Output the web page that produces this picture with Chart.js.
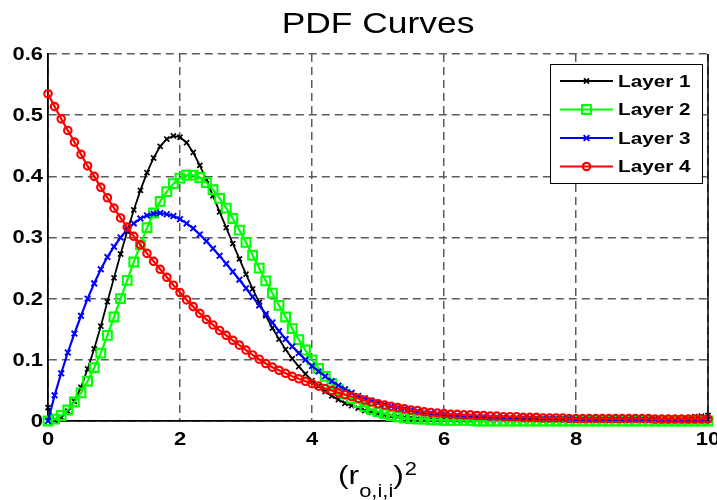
<!DOCTYPE html>
<html>
<head>
<meta charset="utf-8">
<title>PDF Curves</title>
<script src="https://cdn.jsdelivr.net/npm/chart.js@4.4.0/dist/chart.umd.min.js"></script>
<style>
  html, body { margin: 0; padding: 0; background: #fff; }
  canvas { display: block; }
</style>
</head>
<body>
<canvas id="pdfChart" width="717" height="500"></canvas>
<script>
// sample positions along (r_o,i,i)^2
const xValues = [
  0, 0.1, 0.2, 0.3, 0.4, 0.5, 0.6, 0.7, 0.8, 0.9,
  1, 1.1, 1.2, 1.3, 1.4, 1.5, 1.6, 1.7, 1.8, 1.9,
  2, 2.1, 2.2, 2.3, 2.4, 2.5, 2.6, 2.7, 2.8, 2.9,
  3, 3.1, 3.2, 3.3, 3.4, 3.5, 3.6, 3.7, 3.8, 3.9,
  4, 4.1, 4.2, 4.3, 4.4, 4.5, 4.6, 4.7, 4.8, 4.9,
  5, 5.1, 5.2, 5.3, 5.4, 5.5, 5.6, 5.7, 5.8, 5.9,
  6, 6.1, 6.2, 6.3, 6.4, 6.5, 6.6, 6.7, 6.8, 6.9,
  7, 7.1, 7.2, 7.3, 7.4, 7.5, 7.6, 7.7, 7.8, 7.9,
  8, 8.1, 8.2, 8.3, 8.4, 8.5, 8.6, 8.7, 8.8, 8.9,
  9, 9.1, 9.2, 9.3, 9.4, 9.5, 9.6, 9.7, 9.8, 9.9,
  10
];

const layer1 = [
  0.022, 0.001, 0.006, 0.016, 0.032, 0.055, 0.085, 0.118, 0.155, 0.195,
  0.234, 0.273, 0.310, 0.345, 0.377, 0.406, 0.430, 0.449, 0.461, 0.466,
  0.464, 0.455, 0.439, 0.418, 0.394, 0.368, 0.342, 0.316, 0.290, 0.265,
  0.240, 0.216, 0.194, 0.172, 0.152, 0.134, 0.117, 0.102, 0.089, 0.077,
  0.066, 0.057, 0.048, 0.041, 0.035, 0.029, 0.025, 0.021, 0.017, 0.014,
  0.012, 0.010, 0.008, 0.007, 0.006, 0.005, 0.004, 0.003, 0.003, 0.002,
  0.002, 0.002, 0.001, 0.001, 0.001, 0.001, 0.001, 0.001, 0.001, 0.001,
  0.001, 0.001, 0.001, 0.001, 0.001, 0.001, 0.001, 0.001, 0.001, 0.001,
  0.001, 0.001, 0.001, 0.001, 0.001, 0.001, 0.001, 0.001, 0.001, 0.001,
  0.001, 0.001, 0.001, 0.001, 0.001, 0.001, 0.002, 0.005, 0.007, 0.008,
  0.009
];

const layer2 = [
  0.000, 0.003, 0.009, 0.018, 0.031, 0.046, 0.065, 0.087, 0.111, 0.140,
  0.170, 0.200, 0.230, 0.260, 0.288, 0.316, 0.340, 0.359, 0.375, 0.388,
  0.397, 0.402, 0.402, 0.398, 0.390, 0.378, 0.364, 0.348, 0.331, 0.312,
  0.292, 0.271, 0.250, 0.229, 0.209, 0.189, 0.170, 0.151, 0.133, 0.116,
  0.100, 0.086, 0.073, 0.061, 0.051, 0.044, 0.037, 0.030, 0.024, 0.019,
  0.015, 0.012, 0.009, 0.007, 0.005, 0.004, 0.003, 0.003, 0.002, 0.002,
  0.001, 0.001, 0.001, 0.001, 0.001, 0.000, 0.000, 0.000, 0.000, 0.000,
  0.000, 0.000, 0.000, 0.000, 0.000, 0.000, 0.000, 0.000, 0.000, 0.000,
  0.000, 0.000, 0.000, 0.000, 0.000, 0.000, 0.000, 0.000, 0.000, 0.000,
  0.000, 0.000, 0.000, 0.000, 0.000, 0.000, 0.000, 0.000, 0.000, 0.000,
  0.000
];

const layer3 = [
  0.000, 0.042, 0.078, 0.112, 0.143, 0.172, 0.200, 0.225, 0.248, 0.268,
  0.285, 0.300, 0.313, 0.323, 0.331, 0.336, 0.339, 0.340, 0.338, 0.335,
  0.330, 0.323, 0.315, 0.305, 0.294, 0.282, 0.270, 0.257, 0.244, 0.231,
  0.217, 0.203, 0.189, 0.175, 0.161, 0.147, 0.134, 0.122, 0.111, 0.100,
  0.090, 0.081, 0.073, 0.065, 0.058, 0.052, 0.046, 0.041, 0.037, 0.033,
  0.030, 0.027, 0.024, 0.022, 0.020, 0.018, 0.016, 0.014, 0.013, 0.012,
  0.011, 0.010, 0.009, 0.008, 0.008, 0.007, 0.007, 0.006, 0.006, 0.006,
  0.005, 0.005, 0.005, 0.005, 0.004, 0.004, 0.004, 0.004, 0.004, 0.004,
  0.003, 0.003, 0.003, 0.003, 0.003, 0.003, 0.003, 0.003, 0.003, 0.003,
  0.003, 0.003, 0.003, 0.002, 0.002, 0.002, 0.002, 0.002, 0.002, 0.002,
  0.002
];

const layer4 = [
  0.535, 0.514, 0.494, 0.475, 0.456, 0.436, 0.417, 0.400, 0.382, 0.365,
  0.348, 0.332, 0.317, 0.302, 0.288, 0.274, 0.261, 0.248, 0.235, 0.222,
  0.210, 0.198, 0.187, 0.176, 0.166, 0.157, 0.148, 0.140, 0.132, 0.124,
  0.116, 0.108, 0.101, 0.094, 0.088, 0.083, 0.078, 0.073, 0.069, 0.065,
  0.061, 0.057, 0.053, 0.050, 0.046, 0.043, 0.040, 0.037, 0.034, 0.031,
  0.028, 0.026, 0.024, 0.022, 0.020, 0.018, 0.017, 0.015, 0.014, 0.013,
  0.012, 0.011, 0.011, 0.010, 0.010, 0.009, 0.009, 0.008, 0.008, 0.007,
  0.007, 0.007, 0.006, 0.006, 0.006, 0.005, 0.005, 0.005, 0.005, 0.004,
  0.004, 0.004, 0.004, 0.004, 0.004, 0.004, 0.004, 0.004, 0.004, 0.004,
  0.004, 0.004, 0.003, 0.003, 0.003, 0.003, 0.003, 0.003, 0.003, 0.003,
  0.003
];

const seriesNames = ['Layer 1', 'Layer 2', 'Layer 3', 'Layer 4'];
const xTickLabels = ['0', '2', '4', '6', '8', '10'];
const yTickLabels = ['0', '0.1', '0.2', '0.3', '0.4', '0.5', '0.6'];
const chartTitle = 'PDF Curves';

const FONT = '"Liberation Sans", Arial, Helvetica, sans-serif';
const SX = 1.22; // text is drawn a little wide

// draw text stretched horizontally, returns the drawn width
function wideText(ctx, str, x, y, align) {
  const w = ctx.measureText(str).width * SX;
  let left = x;
  if (align === 'center') left = x - w / 2;
  else if (align === 'right') left = x - w;
  ctx.save();
  ctx.translate(left, y);
  ctx.scale(SX, 1);
  ctx.textAlign = 'left';
  ctx.fillText(str, 0, 0);
  ctx.restore();
  return w;
}

function series(label, data, color, style, radius, lineW, markW, order) {
  return {
    label: label,
    data: data,
    borderColor: color,
    backgroundColor: 'rgba(0,0,0,0)',
    borderWidth: lineW,
    pointStyle: style,
    pointRadius: radius,
    pointBorderWidth: markW,
    pointBorderColor: color,
    pointBackgroundColor: 'rgba(0,0,0,0)',
    tension: 0,
    clip: false,
    order: order
  };
}

// title, tick text, axis label, right edge and legend box
const axesDecor = {
  id: 'axesDecor',
  afterDraw(chart) {
    const { ctx, chartArea: a, scales: { x, y } } = chart;
    ctx.save();

    ctx.strokeStyle = '#000';
    ctx.lineWidth = 1.5;
    ctx.beginPath();
    ctx.moveTo(a.right, a.top);
    ctx.lineTo(a.right, a.bottom);
    ctx.stroke();

    ctx.fillStyle = '#000';
    ctx.textBaseline = 'alphabetic';
    ctx.font = '29px ' + FONT;
    wideText(ctx, chartTitle, (a.left + a.right) / 2, 33, 'center');

    ctx.font = 'bold 18px ' + FONT;
    ctx.textBaseline = 'middle';
    yTickLabels.forEach(t => {
      wideText(ctx, t, a.left - 5, y.getPixelForValue(Number(t)) + 1, 'right');
    });
    ctx.textBaseline = 'alphabetic';
    xTickLabels.forEach(t => {
      wideText(ctx, t, x.getPixelForValue(Number(t)), 445, 'center');
    });

    // (r_{o,i,i})^2
    let cx = 338;
    ctx.font = '26px ' + FONT;
    cx += wideText(ctx, '(', cx, 484, 'left');
    cx += wideText(ctx, 'r', cx, 484, 'left');
    ctx.font = '18px ' + FONT;
    cx += wideText(ctx, 'o,i,i', cx, 497, 'left');
    ctx.font = '26px ' + FONT;
    cx += wideText(ctx, ')', cx, 484, 'left');
    ctx.font = '18px ' + FONT;
    wideText(ctx, '2', cx + 1, 475, 'left');

    // legend
    const box = { l: 550, t: 64, r: 702, b: 183 };
    ctx.fillStyle = '#fff';
    ctx.fillRect(box.l, box.t, box.r - box.l, box.b - box.t);
    ctx.strokeStyle = '#000';
    ctx.lineWidth = 1;
    ctx.strokeRect(box.l + 0.5, box.t + 0.5, box.r - box.l, box.b - box.t);

    chart.data.datasets.forEach((ds, i) => {
      const ry = box.t + 17 + i * 28.5;
      ctx.strokeStyle = ds.borderColor;
      ctx.lineWidth = ds.borderWidth;
      ctx.beginPath();
      ctx.moveTo(560, ry);
      ctx.lineTo(613, ry);
      ctx.stroke();
      ctx.fillStyle = 'rgba(0,0,0,0)';
      ctx.lineWidth = ds.pointBorderWidth;
      Chart.helpers.drawPoint(ctx, {
        pointStyle: ds.pointStyle,
        radius: ds.pointRadius,
        rotation: 0,
        borderWidth: ds.pointBorderWidth
      }, 586.5, ry);
      ctx.fillStyle = '#000';
      ctx.font = 'bold 17px ' + FONT;
      ctx.textBaseline = 'middle';
      wideText(ctx, ds.label, 618, ry + 1, 'left');
    });

    ctx.restore();
  }
};

const gridStyle = { color: '#5c5c5c', lineWidth: 1.5, drawTicks: false };

new Chart(document.getElementById('pdfChart'), {
  type: 'line',
  data: {
    labels: xValues,
    datasets: [
      series(seriesNames[0], layer1, '#000000', 'crossRot', 3.6, 1.8, 1.7, 3),
      series(seriesNames[1], layer2, '#00ff00', 'rect', 6.2, 2.2, 2.1, 2),
      series(seriesNames[2], layer3, '#0000ff', 'crossRot', 4, 2.2, 1.9, 1),
      series(seriesNames[3], layer4, '#ff0000', 'circle', 3.7, 2.2, 2.2, 0)
    ]
  },
  options: {
    responsive: false,
    animation: false,
    devicePixelRatio: 1,
    events: [],
    layout: { padding: { left: 48, top: 54, right: 9, bottom: 79 } },
    plugins: {
      legend: { display: false },
      title: { display: false },
      tooltip: { enabled: false }
    },
    scales: {
      x: {
        type: 'linear',
        min: 0,
        max: 10,
        ticks: { stepSize: 2, display: false },
        grid: gridStyle,
        border: { display: true, color: '#000', width: 1.8, dash: [8, 5] },
        afterFit: s => { s.height = 0; }
      },
      y: {
        type: 'linear',
        min: 0,
        max: 0.6,
        ticks: { stepSize: 0.1, display: false },
        grid: gridStyle,
        border: { display: true, color: '#000', width: 1.8, dash: [8, 5] },
        afterFit: s => { s.width = 0; }
      }
    }
  },
  plugins: [axesDecor]
});
</script>
</body>
</html>
